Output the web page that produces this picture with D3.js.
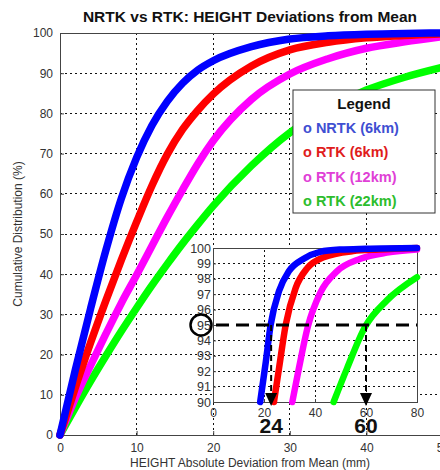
<!DOCTYPE html>
<html>
<head>
<meta charset="utf-8">
<script src="https://cdn.jsdelivr.net/npm/d3@7"></script>
<style>
  body { margin: 0; background: #fff; }
  text { font-family: "Liberation Sans", Arial, sans-serif; }
</style>
</head>
<body>
<script>
// main chart: cumulative % at each deviation (mm)
var devMm  = [0, 2, 4, 6, 8, 10, 12, 14, 16, 18, 20, 25, 30, 35, 40, 45, 50];
var nrtk6  = [0, 16.2, 31.5, 46, 58.8, 69, 77, 83, 87.5, 90.8, 93.1, 96.6, 98.5, 99.3, 99.7, 99.9, 100];
var rtk6   = [0, 11.8, 23, 33.5, 43.5, 53, 62, 69.8, 76, 80.8, 84.8, 91.8, 95.8, 97.7, 98.8, 99.4, 99.8];
var rtk12  = [0, 9.2, 17.3, 25.2, 32.8, 39.8, 47, 54.2, 61, 67.5, 73.2, 83.5, 89.8, 93.6, 96.2, 97.8, 99.1];
var rtk22  = [0, 6.8, 13.4, 19.7, 25.8, 31.6, 37.2, 42.5, 47.6, 52.4, 57, 67, 75.2, 81.2, 85.8, 89, 91.5];

// inset (zoom of the 90-100 % band)
var insetNrtk6 = [[18.5,90],[20.7,92.6],[22.6,95],[25.9,97.2],[29.8,98.5],[35.6,99.3],[42,99.75],[50,99.9],[60,99.95],[80,100]];
var insetRtk6  = [[23.9,90],[25.9,92.2],[28.5,95],[32.4,97.4],[37,98.7],[43.4,99.4],[55,99.8],[65,99.9],[80,100]];
var insetRtk12 = [[31.1,90],[33.7,92.2],[37.2,94.9],[42.1,97.1],[48.7,98.5],[57.8,99.3],[68.2,99.7],[80,99.9]];
var insetRtk22 = [[47.3,90],[52.6,92.2],[59.7,94.9],[68.2,96.6],[80,98.1]];

var names = ["NRTK (6km)", "RTK (6km)", "RTK (12km)", "RTK (22km)"];
var lineColors = ["#0000ff", "#ff0000", "#ff00ff", "#00ff00"];
var textColors = ["#3f4fd2", "#e01c1c", "#e040d6", "#2dbd2d"];

var xTicks = [0, 10, 20, 30, 40, 50];
var yTicks = [0, 10, 20, 30, 40, 50, 60, 70, 80, 90, 100];
var insetXTicks = [0, 20, 40, 60, 80];
var insetYTicks = [90, 91, 92, 93, 94, 95, 96, 97, 98, 99, 100];
var level = 95;
var arrowAt = [22.8, 60];
var arrowLabels = ["24", "60"];

var W = 440, H = 470;
var svg = d3.select('body').append('svg')
            .attr('width', W).attr('height', H);

var x = d3.scaleLinear().domain([0, 50]).range([60, 443]);
var y = d3.scaleLinear().domain([0, 100]).range([435, 33]);

// grid
var grid = svg.append('g')
   .attr('stroke', '#111').attr('stroke-width', 1)
   .attr('stroke-dasharray', '2,3').attr('shape-rendering', 'crispEdges');
grid.selectAll('.gx').data(xTicks.slice(1, -1)).enter().append('line')
   .attr('x1', function(d){ return x(d); }).attr('x2', function(d){ return x(d); })
   .attr('y1', y(0)).attr('y2', y(100));
grid.selectAll('.gy').data(yTicks.slice(1, -1)).enter().append('line')
   .attr('x1', x(0)).attr('x2', x(50))
   .attr('y1', function(d){ return y(d); }).attr('y2', function(d){ return y(d); });

// axes
var xAxis = d3.axisBottom(x).tickValues(xTicks).tickSizeInner(-4).tickSizeOuter(0).tickPadding(8);
var yAxis = d3.axisLeft(y).tickValues(yTicks).tickSizeInner(-4).tickSizeOuter(0).tickPadding(7);

function styleAxis(g, fs) {
  g.select('.domain').attr('stroke', '#444');
  g.selectAll('.tick line').attr('stroke', '#444');
  g.selectAll('.tick text').attr('fill', '#333').attr('font-size', fs)
   .attr('font-family', '"Liberation Sans", Arial, sans-serif');
}

svg.append('g').attr('transform', 'translate(0,' + y(0) + ')').call(xAxis).call(styleAxis, '12px');
svg.append('g').attr('transform', 'translate(' + x(0) + ',0)').call(yAxis).call(styleAxis, '12px');
svg.append('line').attr('x1', x(0)).attr('x2', x(50)).attr('y1', y(100)).attr('y2', y(100))
   .attr('stroke', '#444').attr('shape-rendering', 'crispEdges');

// curves
var series = [nrtk6, rtk6, rtk12, rtk22];
var line = d3.line()
   .x(function(d, i){ return x(devMm[i]); })
   .y(function(d){ return y(d); })
   .curve(d3.curveMonotoneX);

svg.append('g').selectAll('path').data(series.slice().reverse()).enter().append('path')
   .attr('d', line)
   .attr('fill', 'none')
   .attr('stroke', function(d, i){ return lineColors[3 - i]; })
   .attr('stroke-width', 7.5)
   .attr('stroke-linecap', 'round')
   .attr('stroke-linejoin', 'round');

// titles
svg.append('text').attr('x', 250).attr('y', 22).attr('text-anchor', 'middle')
   .attr('font-size', '15.5px').attr('font-weight', 'bold').attr('fill', '#111')
   .text('NRTK vs RTK: HEIGHT Deviations from Mean');
svg.append('text').attr('x', 250).attr('y', 467).attr('text-anchor', 'middle')
   .attr('font-size', '12px').attr('fill', '#333')
   .text('HEIGHT Absolute Deviation from Mean (mm)');
svg.append('text').attr('transform', 'translate(22,' + ((y(0) + y(100)) / 2) + ') rotate(-90)')
   .attr('text-anchor', 'middle').attr('font-size', '12px').attr('fill', '#333')
   .text('Cumulative Distribution (%)');

// legend
var lg = svg.append('g').attr('transform', 'translate(293,90)');
lg.append('rect').attr('width', 142).attr('height', 123)
  .attr('fill', '#fff').attr('stroke', '#333').attr('stroke-width', 1);
lg.append('text').attr('x', 71).attr('y', 19).attr('text-anchor', 'middle')
  .attr('font-size', '15px').attr('font-weight', 'bold').attr('fill', '#111').text('Legend');
lg.selectAll('.item').data(names).enter().append('text')
  .attr('x', 10)
  .attr('y', function(d, i){ return 43 + i * 24.3; })
  .attr('font-size', '14.5px').attr('font-weight', 'bold')
  .attr('fill', function(d, i){ return textColors[i]; })
  .text(function(d){ return 'o ' + d; });

// inset
var ix = d3.scaleLinear().domain([0, 80]).range([213, 417]);
var iy = d3.scaleLinear().domain([90, 100]).range([402, 248]);
var inset = svg.append('g');
inset.append('rect').attr('x', ix(0)).attr('y', iy(100))
  .attr('width', ix(80) - ix(0)).attr('height', iy(90) - iy(100))
  .attr('fill', '#fff');

var ig = inset.append('g')
   .attr('stroke', '#111').attr('stroke-width', 1)
   .attr('stroke-dasharray', '2,3').attr('shape-rendering', 'crispEdges');
ig.selectAll('.gx').data(insetXTicks.slice(1, -1)).enter().append('line')
   .attr('x1', function(d){ return ix(d); }).attr('x2', function(d){ return ix(d); })
   .attr('y1', iy(90)).attr('y2', iy(100));
ig.selectAll('.gy').data(insetYTicks.slice(1, -1).filter(function(d){ return d !== level; })).enter().append('line')
   .attr('x1', ix(0)).attr('x2', ix(80))
   .attr('y1', function(d){ return iy(d); }).attr('y2', function(d){ return iy(d); });

var ixAxis = d3.axisBottom(ix).tickValues(insetXTicks).tickSizeInner(-3).tickSizeOuter(0).tickPadding(6);
var iyAxis = d3.axisLeft(iy).tickValues(insetYTicks).tickSizeInner(-3).tickSizeOuter(0).tickPadding(2);
inset.append('g').attr('transform', 'translate(0,' + iy(90) + ')').call(ixAxis).call(styleAxis, '12px');
inset.append('g').attr('transform', 'translate(' + ix(0) + ',0)').call(iyAxis).call(styleAxis, '12.5px');
inset.append('rect').attr('x', ix(0)).attr('y', iy(100))
  .attr('width', ix(80) - ix(0)).attr('height', iy(90) - iy(100))
  .attr('fill', 'none').attr('stroke', '#444').attr('shape-rendering', 'crispEdges');

var iline = d3.line()
   .x(function(d){ return ix(d[0]); })
   .y(function(d){ return iy(d[1]); })
   .curve(d3.curveMonotoneX);
var iseries = [insetNrtk6, insetRtk6, insetRtk12, insetRtk22];
inset.append('g').selectAll('path').data(iseries.slice().reverse()).enter().append('path')
   .attr('d', iline)
   .attr('fill', 'none')
   .attr('stroke', function(d, i){ return lineColors[3 - i]; })
   .attr('stroke-width', 6.5)
   .attr('stroke-linecap', 'round');

// 95 % reference line and arrows
inset.append('line').attr('x1', ix(0) + 3).attr('x2', ix(80))
  .attr('y1', iy(level)).attr('y2', iy(level))
  .attr('stroke', '#000').attr('stroke-width', 3).attr('stroke-dasharray', '13,7');
inset.append('circle').attr('cx', 201).attr('cy', iy(level)).attr('r', 10.5)
  .attr('fill', 'none').attr('stroke', '#000').attr('stroke-width', 2.5);

arrowAt.forEach(function(v, i){
  var ax = ix(v);
  inset.append('line').attr('x1', ax).attr('x2', ax)
    .attr('y1', iy(level)).attr('y2', iy(90) - 8)
    .attr('stroke', '#000').attr('stroke-width', 2).attr('stroke-dasharray', '6,4');
  inset.append('path')
    .attr('d', 'M' + (ax - 6) + ',' + (iy(90) - 9) + 'L' + (ax + 6) + ',' + (iy(90) - 9) + 'L' + ax + ',' + (iy(90) + 4) + 'Z')
    .attr('fill', '#000');
  svg.append('text').attr('x', ax).attr('y', 433).attr('text-anchor', 'middle')
    .attr('font-size', '21px').attr('font-weight', 'bold').attr('fill', '#111')
    .text(arrowLabels[i]);
});
</script>
</body>
</html>
